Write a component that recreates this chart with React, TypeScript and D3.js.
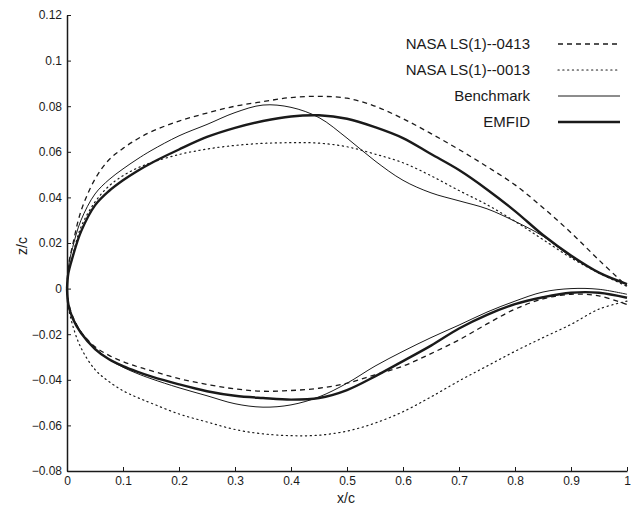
import React, { useEffect, useRef } from 'react';
import * as d3 from 'd3';

// x/c stations shared by all sections
const xc = [0, 0.0025, 0.01, 0.025, 0.05, 0.075, 0.1, 0.125, 0.15, 0.2, 0.25, 0.3, 0.35, 0.4, 0.45,
  0.5, 0.55, 0.6, 0.65, 0.7, 0.75, 0.8, 0.85, 0.9, 0.95, 1.0];

// NASA LS(1)-0413
const ls0413Upper = [0, 0.010, 0.019, 0.034, 0.048, 0.0565, 0.0615, 0.0655, 0.0688, 0.0735, 0.077,
  0.080, 0.082, 0.0838, 0.0843, 0.0835, 0.080, 0.0745, 0.068, 0.061, 0.0535, 0.0455, 0.0355, 0.0245,
  0.0125, 0.001];
const ls0413Lower = [0, -0.006, -0.012, -0.019, -0.0255, -0.0293, -0.032, -0.0342, -0.036, -0.0395,
  -0.042, -0.044, -0.045, -0.0447, -0.0437, -0.0415, -0.0378, -0.034, -0.0285, -0.0225, -0.0155,
  -0.009, -0.0045, -0.0025, -0.0032, -0.007];

// NASA LS(1)-0013
const ls0013Upper = [0, 0.007, 0.0145, 0.027, 0.038, 0.045, 0.0495, 0.0528, 0.0552, 0.0588, 0.0612,
  0.0628, 0.0637, 0.064, 0.0638, 0.0622, 0.059, 0.0552, 0.0495, 0.043, 0.0368, 0.0295, 0.0215,
  0.0135, 0.0068, 0.001];
const ls0013Lower = [0, -0.008, -0.016, -0.026, -0.0355, -0.0408, -0.0448, -0.0477, -0.0502, -0.055,
  -0.0585, -0.0618, -0.0637, -0.0645, -0.0643, -0.0625, -0.059, -0.054, -0.0475, -0.0405, -0.034,
  -0.0275, -0.0215, -0.0157, -0.009, -0.0055];

// Benchmark
const benchUpper = [0, 0.0095, 0.018, 0.030, 0.0415, 0.0478, 0.0525, 0.0567, 0.0605, 0.067, 0.072,
  0.0772, 0.0805, 0.0795, 0.075, 0.066, 0.056, 0.0475, 0.042, 0.0385, 0.035, 0.0295, 0.023, 0.014,
  0.007, 0.0018];
const benchLower = [0, -0.007, -0.0125, -0.019, -0.026, -0.031, -0.0345, -0.0372, -0.0395, -0.0435,
  -0.047, -0.0505, -0.052, -0.051, -0.0475, -0.0415, -0.034, -0.0275, -0.0215, -0.016, -0.0103,
  -0.0055, -0.0015, 0.0, -0.0003, -0.0025];

// EMFID
const emfidUpper = [0, 0.0068, 0.0138, 0.025, 0.0365, 0.0428, 0.0475, 0.0515, 0.055, 0.061, 0.0665,
  0.0705, 0.0735, 0.0755, 0.076, 0.0745, 0.0708, 0.066, 0.059, 0.052, 0.0435, 0.034, 0.0235, 0.0145,
  0.007, 0.002];
const emfidLower = [0, -0.007, -0.013, -0.0195, -0.0265, -0.031, -0.034, -0.0364, -0.0385, -0.042,
  -0.045, -0.047, -0.048, -0.0487, -0.048, -0.0445, -0.0385, -0.0318, -0.025, -0.0175, -0.0115,
  -0.0068, -0.0038, -0.0018, -0.0018, -0.004];

const seriesNames = ['NASA LS(1)--0413', 'NASA LS(1)--0013', 'Benchmark', 'EMFID'];

const xTicks = [0, 0.1, 0.2, 0.3, 0.4, 0.5, 0.6, 0.7, 0.8, 0.9, 1];
const yTicks = [-0.08, -0.06, -0.04, -0.02, 0, 0.02, 0.04, 0.06, 0.08, 0.1, 0.12];

const App = () => {
  const chartRef = useRef<SVGSVGElement>(null);

  useEffect(() => {
    const svg = d3.select(chartRef.current);
    svg.selectAll('*').remove();

    const width = 637;
    const height = 506;
    const margin = { top: 15, right: 10, bottom: 35, left: 67 };
    const ink = '#1a1a1a';
    const font = '"Liberation Sans", Arial, Helvetica, sans-serif';

    const x = d3.scaleLinear().domain([0, 1]).range([margin.left, width - margin.right]);
    const y = d3.scaleLinear().domain([-0.08, 0.12]).range([height - margin.bottom, margin.top]);

    const styles = [
      { width: 1.3, dash: '5 4' },
      { width: 1.2, dash: '1.2 3.6' },
      { width: 1.0, dash: null },
      { width: 2.4, dash: null },
    ];
    const sections = [
      [ls0413Upper, ls0413Lower],
      [ls0013Upper, ls0013Lower],
      [benchUpper, benchLower],
      [emfidUpper, emfidLower],
    ];

    const line = d3.line<number>()
      .x((d, i) => x(xc[i]))
      .y(d => y(d))
      .curve(d3.curveCatmullRom.alpha(0.5));

    // curves
    sections.forEach((surfaces, k) => {
      surfaces.forEach(zs => {
        svg.append('path')
          .attr('d', line(zs))
          .attr('fill', 'none')
          .attr('stroke', ink)
          .attr('stroke-width', styles[k].width)
          .attr('stroke-dasharray', styles[k].dash)
          .attr('stroke-linecap', k === 1 ? 'round' : 'butt');
      });
    });

    // axes (ticks inward)
    const yAxis = svg.append('g')
      .attr('transform', `translate(${margin.left},0)`)
      .call(d3.axisLeft(y).tickValues(yTicks).tickSize(-4).tickSizeOuter(0).tickPadding(5)
        .tickFormat(d => d3.format('~g')(+d)));
    const xAxis = svg.append('g')
      .attr('transform', `translate(0,${height - margin.bottom})`)
      .call(d3.axisBottom(x).tickValues(xTicks).tickSize(-4).tickSizeOuter(0).tickPadding(5)
        .tickFormat(d => d3.format('~g')(+d)));

    [xAxis, yAxis].forEach(g => {
      g.select('.domain').attr('stroke', ink).attr('stroke-width', 1.5);
      g.selectAll('.tick line').attr('stroke', ink).attr('stroke-width', 1);
      g.selectAll('.tick text')
        .attr('fill', ink)
        .style('font-family', font)
        .style('font-size', '12px');
    });

    // axis titles
    svg.append('text')
      .attr('x', 346)
      .attr('y', 503)
      .attr('text-anchor', 'middle')
      .attr('fill', ink)
      .style('font-family', font)
      .style('font-size', '14px')
      .text('x/c');

    svg.append('text')
      .attr('transform', 'translate(27,246) rotate(-90)')
      .attr('text-anchor', 'middle')
      .attr('fill', ink)
      .style('font-family', font)
      .style('font-size', '14px')
      .text('z/c');

    // legend
    const legend = svg.append('g')
      .selectAll('g')
      .data(seriesNames)
      .enter()
      .append('g')
      .attr('transform', (d, i) => `translate(0,${44 + i * 26})`);

    legend.append('text')
      .attr('x', 530)
      .attr('y', 5)
      .attr('text-anchor', 'end')
      .attr('fill', ink)
      .style('font-family', font)
      .style('font-size', '15px')
      .text(d => d);

    legend.append('line')
      .attr('x1', 558)
      .attr('x2', 620)
      .attr('y1', 0)
      .attr('y2', 0)
      .attr('stroke', ink)
      .attr('stroke-width', (d, i) => styles[i].width)
      .attr('stroke-dasharray', (d, i) => styles[i].dash)
      .attr('stroke-linecap', (d, i) => (i === 1 ? 'round' : 'butt'));
  }, []);

  return (
    <svg
      ref={chartRef}
      width={637}
      height={506}
      style={{ position: 'absolute', left: 0, top: 0, background: '#fff' }}
    />
  );
};

export default App;
